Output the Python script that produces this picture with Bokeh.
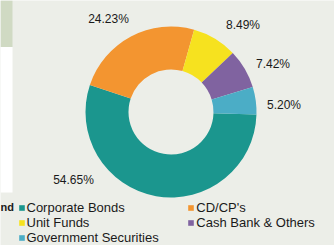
import math
from bokeh.plotting import figure
from bokeh.models import Range1d, ColumnDataSource, Legend, LegendItem
from bokeh.core.properties import value
from bokeh.embed import file_html
from bokeh.resources import INLINE

# ---- data ----
categories = ["Corporate Bonds", "CD/CP's", "Unit Funds", "Cash Bank & Others", "Government Securities"]
shares = [54.65, 24.23, 8.49, 7.42, 5.20]
labels = ["54.65%", "24.23%", "8.49%", "7.42%", "5.20%"]
colors = ["#1b968e", "#f39530", "#f6e21f", "#8063a0", "#4badc6"]

# ---- layout (page pixel coords) ----
BG = "#eceee8"
W, H = 334, 245
cx, cy = 170.5, 111.5
r_out, r_in = 85.5, 42.5
start_deg = -1.7
label_px = [(73, 179), (108, 18), (242.5, 24), (272.5, 63), (283.5, 104)]

total = sum(shares)
ends, starts = [], []
a = math.radians(start_deg)
for s in shares:
    span = s / total * 2 * math.pi
    ends.append(a)
    starts.append(a - span)
    a -= span

src = ColumnDataSource(dict(cat=categories, start=starts, end=ends, color=colors))

p = figure(width=W, height=H, output_backend="svg", toolbar_location=None,
           x_range=Range1d(0, W), y_range=Range1d(-H, 0),
           min_border=0, outline_line_color=None,
           background_fill_color=BG, border_fill_color=BG)
p.axis.visible = False
p.grid.visible = False

# page artefacts at left edge
p.quad(left=[0], right=[12], top=[0], bottom=[-46.5], fill_color="#d0dac3", line_color=None)
p.quad(left=[0], right=[12], top=[-46.5], bottom=[-192], fill_color="#ffffff", line_color=None)
p.text(x=[0], y=[-206], text=["nd"], text_align="left", text_baseline="middle",
       text_font=value("Liberation Sans"), text_font_size="11px", text_font_style="bold",
       text_color="#1a1a1a")

r = p.annular_wedge(x=cx, y=-cy, inner_radius=r_in, outer_radius=r_out,
                    start_angle="start", end_angle="end", fill_color="color",
                    line_color=None, source=src)

p.text(x=[q[0] for q in label_px], y=[-q[1] for q in label_px], text=labels,
       text_align="center", text_baseline="middle",
       text_font=value("Liberation Sans"), text_font_size="12px", text_color="#1a1a1a")

def make_legend(idx, loc):
    items = [LegendItem(label=categories[i], renderers=[r], index=i) for i in idx]
    lg = Legend(items=items, location=loc, orientation="vertical",
                glyph_width=7, glyph_height=7, label_height=15, label_standoff=2,
                spacing=0, padding=0, margin=0, border_line_color=None,
                background_fill_alpha=0, label_text_font="Liberation Sans",
                label_text_font_size="13px", label_text_color="#1a1a1a")
    p.add_layout(lg, "center")

make_legend([0, 2, 4], (17.5, 0))
make_legend([1, 3], (187.3, 15))

open("out.html", "w").write(file_html(p, INLINE))
